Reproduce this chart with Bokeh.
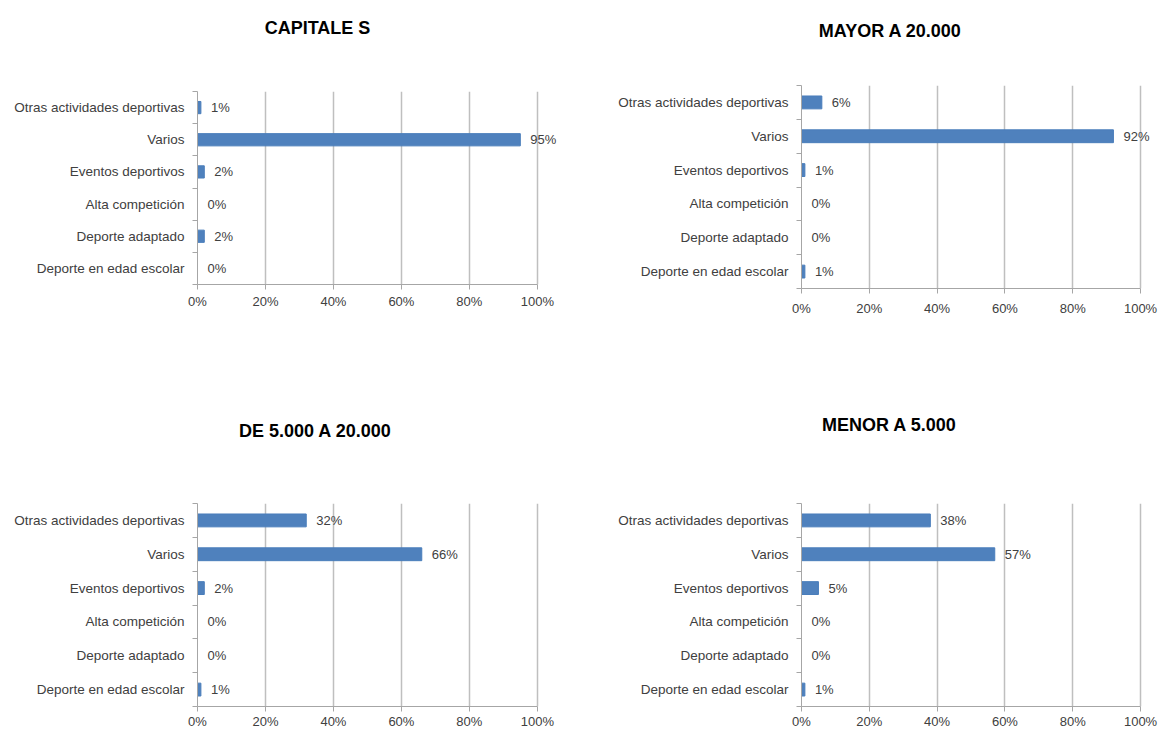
from bokeh.plotting import figure
from bokeh.layouts import row, column
from bokeh.models import Range1d, FixedTicker, ColumnDataSource, PrintfTickFormatter
from bokeh.core.properties import value
from bokeh.embed import file_html
from bokeh.resources import INLINE

# ---------------- data ----------------
categories = [
    "Deporte en edad escolar",
    "Deporte adaptado",
    "Alta competición",
    "Eventos deportivos",
    "Varios",
    "Otras actividades deportivas",
]
titles = ["CAPITALE S", "MAYOR A 20.000", "DE 5.000 A 20.000", "MENOR A 5.000"]
capitales = [0, 2, 0, 2, 95, 1]
mayor_20000 = [1, 0, 0, 1, 92, 6]
de_5000_a_20000 = [1, 0, 0, 2, 66, 32]
menor_5000 = [1, 0, 0, 5, 57, 38]
x_ticks = [0, 20, 40, 60, 80, 100]

FONT = "Liberation Sans"
BAR = "#4F81BD"
AXIS = "#A6A6A6"
GRID = "#BFBFBF"
TXT = "#404040"


def title_strip(text, width, height, mbl, mbr, cx, from_top):
    t = figure(width=width, height=height,
               x_range=Range1d(mbl, width - mbr), y_range=Range1d(0, height),
               output_backend="svg", toolbar_location=None, tools="",
               x_axis_type=None, y_axis_type=None,
               min_border_left=mbl, min_border_right=mbr, min_border_top=0, min_border_bottom=0)
    t.outline_line_color = None
    t.grid.visible = False
    t.text(x=[cx], y=[height - from_top], text=[text], text_align="center", text_baseline="middle",
           text_font=value(FONT), text_font_size="18px", text_font_style="bold", text_color="#000000")
    return t


def chart(vals, width, height, mbl, mbr, mbt, mbb, xstand, xmax):
    n = len(categories)
    pos = [i + 0.5 for i in range(n)]
    src = ColumnDataSource(dict(y=pos, v=vals, lab=[f"{v}%" for v in vals]))
    p = figure(width=width, height=height, x_range=Range1d(0, xmax), y_range=Range1d(0, n),
               output_backend="svg", toolbar_location=None, tools="",
               min_border_left=mbl, min_border_right=mbr, min_border_top=mbt, min_border_bottom=mbb)
    p.outline_line_color = None
    p.hbar(y="y", left=0, right="v", height=0.38, source=src,
           fill_color=BAR, line_color="#4A7EBB", line_width=1)
    p.text(x="v", y="y", text="lab", source=src, x_offset=10, text_align="left",
           text_baseline="middle", text_font=value(FONT), text_font_size="13px", text_color=TXT)

    xa = p.xaxis[0]
    xa.ticker = FixedTicker(ticks=x_ticks, minor_ticks=[])
    xa.formatter = PrintfTickFormatter(format="%d%%")
    xa.bounds = (0, 100)
    xa.axis_line_color = AXIS
    xa.major_tick_line_color = AXIS
    xa.major_tick_in = 0
    xa.major_tick_out = 5
    xa.minor_tick_line_color = None
    xa.major_label_standoff = xstand
    xa.major_label_text_font = FONT
    xa.major_label_text_font_size = "13px"
    xa.major_label_text_color = TXT

    ya = p.yaxis[0]
    ya.ticker = FixedTicker(ticks=pos, minor_ticks=list(range(n + 1)))
    ya.major_label_overrides = {pos[i]: categories[i] for i in range(n)}
    ya.axis_line_color = AXIS
    ya.major_tick_line_color = None
    ya.major_tick_in = 0
    ya.major_tick_out = 0
    ya.minor_tick_in = 0
    ya.minor_tick_out = 5
    ya.minor_tick_line_color = AXIS
    ya.major_label_standoff = 8
    ya.major_label_text_font = FONT
    ya.major_label_text_font_size = "13.5px"
    ya.major_label_text_color = TXT

    p.ygrid.visible = False
    p.xgrid.ticker = xa.ticker
    p.xgrid.grid_line_color = GRID
    p.xgrid.grid_line_width = 1.5
    return p


# left column: width 580, frame 197..564 ; right column: width 582, frame 801..1157
LW, LL, LR, LX = 580, 197, 16, 108
RW, RL, RR, RX = 582, 221, 5, 105

t1 = title_strip(titles[0], LW, 60, LL, LR, 317, 27)
c1 = chart(capitales, LW, 300, LL, LR, 31, 76, 4, LX)
t3 = title_strip(titles[2], LW, 100, LL, LR, 315, 70)
c3 = chart(de_5000_a_20000, LW, 271, LL, LR, 43, 24, 2, LX)

t2 = title_strip(titles[1], RW, 60, RL, RR, 310, 30)
c2 = chart(mayor_20000, RW, 300, RL, RR, 25, 72, 7, RX)
t4 = title_strip(titles[3], RW, 100, RL, RR, 309, 64)
c4 = chart(menor_5000, RW, 271, RL, RR, 43, 24, 2, RX)

layout = row(column(t1, c1, t3, c3), column(t2, c2, t4, c4))

open("out.html", "w").write(file_html(layout, INLINE))
